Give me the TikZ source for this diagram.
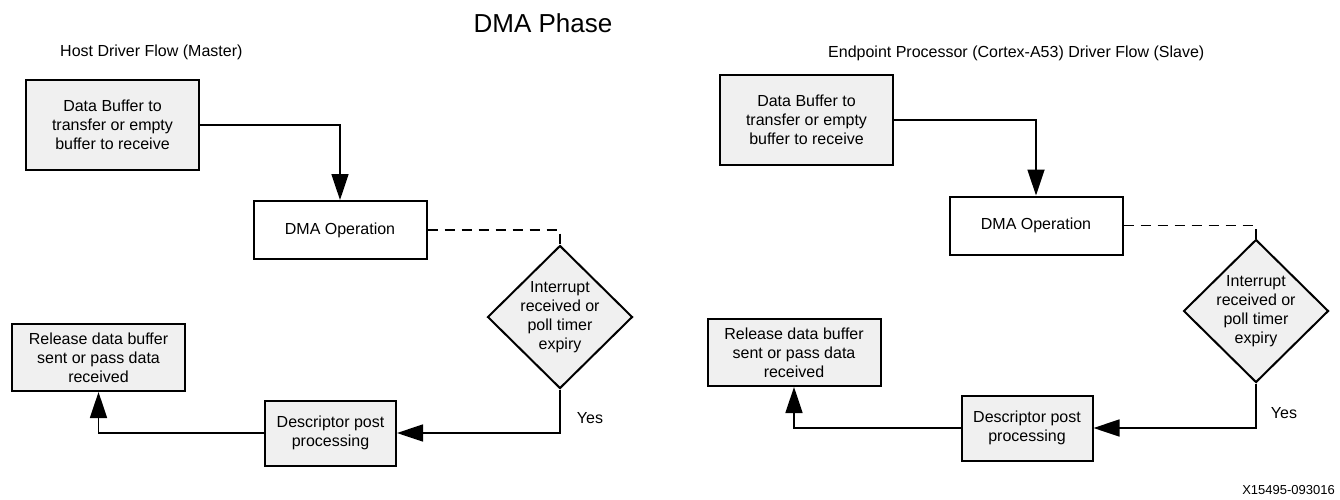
\documentclass[tikz,border=0pt]{standalone}
\usepackage{fontspec}
\setmainfont{Liberation Sans}
\usetikzlibrary{arrows.meta,shapes.geometric}
\begin{document}
\begin{tikzpicture}[x=1pt,y=-1pt,
  txt/.style={font=\fontsize{16}{19}\selectfont, align=center, inner sep=0pt},
  gbox/.style={draw, line width=2pt, fill=gray!12, inner sep=0pt, txt},
  wbox/.style={draw, line width=2pt, fill=white, inner sep=0pt, txt},
  dia/.style={draw, line width=2pt, fill=gray!12, shape=diamond, inner sep=0pt, minimum width=145pt, minimum height=143pt},
  arr/.style={line width=1.7pt, -{Triangle[length=26pt,width=17pt]}},
  dconn/.style={line width=1.8pt, dash pattern=on 10pt off 7pt}
]
\useasboundingbox (0,0) rectangle (1340,499);
\node[font=\fontsize{26}{30}\selectfont, inner sep=0pt] (title) at (543,23) {DMA Phase};
\node[txt, anchor=west] (hL) at (60,52) {Host Driver Flow (Master)};
\node[txt, anchor=west] (hR) at (828,53) {Endpoint Processor (Cortex-A53) Driver Flow (Slave)};
\node[font=\fontsize{13}{15}\selectfont, inner sep=0pt, anchor=east] (id) at (1335,490) {X15495-093016};

% Left flow
\node[gbox, minimum width=173pt, minimum height=90pt] (L1) at (112.5,125) {Data Buffer to\\transfer or empty\\buffer to receive};
\node[wbox, minimum width=173pt, minimum height=58pt] (Ldma) at (340,230) {DMA Operation};
\node[dia] (Ldia) at (560,317) {};
\node[txt] (Ldiat) at (Ldia.center) {Interrupt\\received or\\poll timer\\expiry};
\node[gbox, minimum width=131pt, minimum height=65pt] (Ldesc) at (330.5,433) {Descriptor post\\processing};
\node[gbox, minimum width=173pt, minimum height=67pt] (Lrel) at (98.5,357.5) {Release data buffer\\sent or pass data\\received};
\node[txt] (Lyes) at (590,418) {Yes};
\draw[arr] (L1.east) -| (Ldma.north);
\draw[dconn] (Ldma.east) -| (Ldia.north);
\draw[arr] (Ldia.south) |- (Ldesc.east);
\draw[arr] (Ldesc.west) -| (Lrel.south);

% Right flow
\node[gbox, minimum width=173pt, minimum height=90pt] (R1) at (806.5,120) {Data Buffer to\\transfer or empty\\buffer to receive};
\node[wbox, minimum width=173pt, minimum height=58pt] (Rdma) at (1036,225.5) {DMA Operation};
\node[dia] (Rdia) at (1256,311) {};
\node[txt] (Rdiat) at (Rdia.center) {Interrupt\\received or\\poll timer\\expiry};
\node[gbox, minimum width=131pt, minimum height=65pt] (Rdesc) at (1027,428) {Descriptor post\\processing};
\node[gbox, minimum width=173pt, minimum height=67pt] (Rrel) at (794,352.5) {Release data buffer\\sent or pass data\\received};
\node[txt] (Ryes) at (1284,413) {Yes};
\draw[arr] (R1.east) -| (Rdma.north);
\draw[dconn] (Rdma.east) -| (Rdia.north);
\draw[arr] (Rdia.south) |- (Rdesc.east);
\draw[arr] (Rdesc.west) -| (Rrel.south);
\end{tikzpicture}
\end{document}
